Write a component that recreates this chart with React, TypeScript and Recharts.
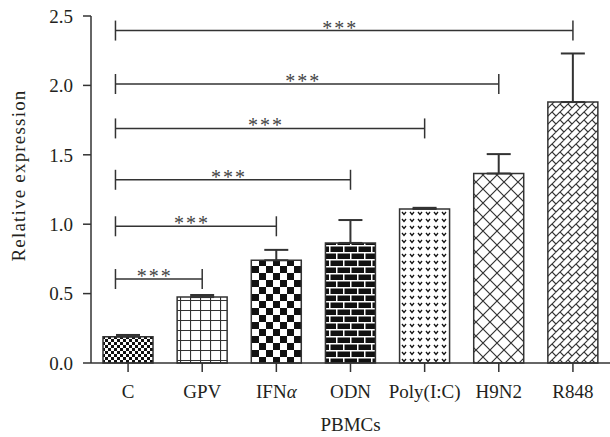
import {
  BarChart, Bar, XAxis, YAxis, Cell, ErrorBar, ReferenceLine, Label,
} from "recharts";

// bar groups and values
const categories = ["C", "GPV", "IFNα", "ODN", "Poly(I:C)", "H9N2", "R848"];
const means = [0.19, 0.475, 0.74, 0.865, 1.11, 1.365, 1.88];
const errors = [0.012, 0.015, 0.075, 0.165, 0.008, 0.14, 0.35];
const patternIds = ["pC", "pGPV", "pIFN", "pODN", "pPoly", "pH9", "pR848"];

// significance brackets, all from C
const bracketStart = -0.17;
const bracketEnds = [1, 2, 3, 4, 5, 6];
const bracketHeights = [0.605, 0.985, 1.32, 1.69, 2.01, 2.395];
const bracketLabel = "***";

const yTicks = [0, 0.5, 1, 1.5, 2, 2.5];

const FONT = "'Liberation Serif', 'Times New Roman', serif";
const INK = "#333";
const TEXT = "#231f20";

const rows = categories.map((name, i) => ({
  x: i,
  name,
  value: means[i],
  err: [0, errors[i]],
}));

function CatTick(props: any) {
  const { x, y, payload } = props;
  const name = categories[payload.value] ?? "";
  const greek = name.endsWith("α");
  return (
    <text x={x} y={y + 24} textAnchor="middle" fontSize={19} fontFamily={FONT} fill={TEXT}>
      {greek ? (
        <>
          <tspan>{name.slice(0, -1)}</tspan>
          <tspan fontStyle="italic">α</tspan>
        </>
      ) : name}
    </text>
  );
}

function Stars(props: any) {
  const vb = props.viewBox;
  if (!vb) return null;
  const cx = vb.x + (vb.width || 0) / 2 - 4;
  return (
    <text
      x={cx} y={vb.y + 4} textAnchor="middle" fontSize={20} letterSpacing={2}
      fontFamily={FONT} fill="#444"
    >
      {bracketLabel}
    </text>
  );
}

function YTitle(props: any) {
  const vb = props.viewBox;
  if (!vb) return null;
  const cx = 18;
  const cy = vb.y + vb.height / 2 - 14;
  return (
    <text
      x={cx} y={cy} transform={`rotate(-90, ${cx}, ${cy})`}
      textAnchor="middle" dominantBaseline="central"
      fontSize={19} letterSpacing={1.2} fontFamily={FONT} fill={TEXT}
    >
      Relative expression
    </text>
  );
}

export default function App() {
  return (
    <div style={{ position: "absolute", left: 0, top: 0, background: "#fff" }}>
      <BarChart
        width={610} height={437} data={rows}
        margin={{ top: 16, right: 0, bottom: 0, left: 0 }}
      >
        <defs>
          <pattern id="pC" width="6" height="6" patternUnits="userSpaceOnUse">
            <rect width="6" height="6" fill="#fff" />
            <rect width="3" height="3" fill="#111" />
            <rect x="3" y="3" width="3" height="3" fill="#111" />
          </pattern>
          <pattern id="pGPV" width="10" height="10" patternUnits="userSpaceOnUse">
            <rect width="10" height="10" fill="#fff" />
            <path d="M0 0.5H10M0.5 0V10" stroke={INK} strokeWidth="1.2" />
          </pattern>
          <pattern id="pIFN" width="14" height="14" patternUnits="userSpaceOnUse">
            <rect width="14" height="14" fill="#fff" />
            <rect width="7" height="7" fill="#111" />
            <rect x="7" y="7" width="7" height="7" fill="#111" />
          </pattern>
          <pattern id="pODN" width="28" height="14" patternUnits="userSpaceOnUse">
            <rect width="28" height="14" fill="#111" />
            <path d="M0 0.75H28M0 7.75H28M0.75 0V7M14.75 0V7M7.75 7V14M21.75 7V14" stroke="#fff" strokeWidth="1.5" />
          </pattern>
          <pattern id="pPoly" width="8" height="7" patternUnits="userSpaceOnUse">
            <rect width="8" height="7" fill="#fff" />
            <path d="M2 2L4 4.5L6 2" stroke="#111" strokeWidth="1.3" fill="none" />
          </pattern>
          <pattern id="pH9" width="14" height="14" patternUnits="userSpaceOnUse">
            <rect width="14" height="14" fill="#fff" />
            <path d="M0 0L14 14M14 0L0 14" stroke={INK} strokeWidth="1.2" />
          </pattern>
          <pattern id="pR848" width="8" height="8" patternUnits="userSpaceOnUse">
            <rect width="8" height="8" fill="#fff" />
            <path d="M-1 1L1 -1M0 8L8 0M7 9L9 7M0 0L4 4" stroke={INK} strokeWidth="1.2" />
          </pattern>
        </defs>

        <XAxis
          type="number" dataKey="x" domain={[-0.5, 6.5]} ticks={[0, 1, 2, 3, 4, 5, 6]}
          interval={0} height={74} tickSize={9} tick={<CatTick />}
          stroke={INK} strokeWidth={1.5}
        >
          <Label
            value="PBMCs" position="insideBottom" offset={6}
            fontSize={19} fontFamily={FONT} fill={TEXT}
          />
        </XAxis>
        <YAxis
          domain={[0, 2.5]} ticks={yTicks} interval={0} width={91}
          tickSize={8} tickMargin={10} stroke={INK} strokeWidth={1.5}
          tickFormatter={(v: number) => v.toFixed(1)}
          tick={{ fontSize: 19, fontFamily: FONT, fill: TEXT }}
          label={(p: any) => <YTitle {...p} />}
        />

        <Bar dataKey="value" barSize={50} stroke={INK} strokeWidth={1.5} isAnimationActive={false}>
          {rows.map((r, i) => (
            <Cell key={r.name} fill={`url(#${patternIds[i]})`} />
          ))}
          <ErrorBar dataKey="err" direction="y" width={12} stroke={INK} strokeWidth={2} isAnimationActive={false} />
        </Bar>

        {bracketEnds.map((end, i) => (
          <ReferenceLine
            key={`h${i}`} stroke={INK} strokeWidth={1.5}
            segment={[{ x: bracketStart, y: bracketHeights[i] }, { x: end, y: bracketHeights[i] }]}
            label={(p: any) => <Stars {...p} />}
          />
        ))}
        {bracketEnds.map((end, i) => (
          <ReferenceLine
            key={`l${i}`} stroke={INK} strokeWidth={1.5}
            segment={[{ x: bracketStart, y: bracketHeights[i] - 0.072 }, { x: bracketStart, y: bracketHeights[i] + 0.072 }]}
          />
        ))}
        {bracketEnds.map((end, i) => (
          <ReferenceLine
            key={`r${i}`} stroke={INK} strokeWidth={1.5}
            segment={[{ x: end, y: bracketHeights[i] - 0.072 }, { x: end, y: bracketHeights[i] + 0.072 }]}
          />
        ))}
      </BarChart>
    </div>
  );
}
